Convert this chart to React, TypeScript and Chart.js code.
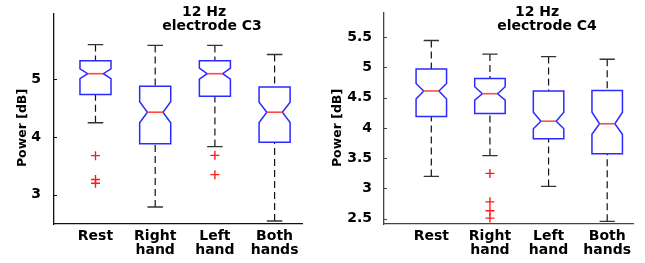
import React, { useEffect, useRef } from "react";
import { Chart, registerables } from "chart.js";

Chart.register(...registerables);

// ---- data ----
const categories: string[][] = [["Rest"], ["Right", "hand"], ["Left", "hand"], ["Both", "hands"]];

const c3TickValues = [3, 4, 5];
const c4TickValues = [2.5, 3, 3.5, 4, 4.5, 5, 5.5];

// electrode C3
const c3WhiskerHigh = [5.6, 5.585, 5.585, 5.428];
const c3Q3 = [5.318, 4.878, 5.32, 4.865];
const c3NotchHigh = [5.18, 4.61, 5.19, 4.6];
const c3Median = [5.095, 4.428, 5.095, 4.428];
const c3NotchLow = [5.01, 4.245, 5.0, 4.25];
const c3Q1 = [4.736, 3.88, 4.705, 3.905];
const c3WhiskerLow = [4.245, 2.785, 3.832, 2.542];
const c3Outliers = [[3.675, 3.26, 3.195], [], [3.68, 3.345], []];

// electrode C4
const c4WhiskerHigh = [5.445, 5.22, 5.18, 5.135];
const c4Q3 = [4.975, 4.815, 4.61, 4.62];
const c4NotchHigh = [4.735, 4.68, 4.26, 4.26];
const c4Median = [4.61, 4.565, 4.11, 4.068];
const c4NotchLow = [4.476, 4.46, 3.985, 3.893];
const c4Q1 = [4.187, 4.236, 3.82, 3.57];
const c4WhiskerLow = [3.197, 3.542, 3.032, 2.455];
const c4Outliers = [[], [3.247, 2.776, 2.63, 2.508], [], []];

const FONT = "'DejaVu Sans', 'Liberation Sans', Arial, sans-serif";

type BoxSet = {
  whiskerHigh: number[];
  q3: number[];
  notchHigh: number[];
  median: number[];
  notchLow: number[];
  q1: number[];
  whiskerLow: number[];
  outliers: number[][];
};

type Panel = {
  set: BoxSet;
  yTicks: number[];
  yMin: number;
  yMax: number;
  xMin: number;
  xMax: number;
  width: number;
  yAxisWidth: number;
  padRight: number;
  tickPad: number;
  axisColor: string;
  titleLines: string[];
  titleCenters: number[];
  yTitleX: number;
};

const panels: Panel[] = [
  {
    set: {
      whiskerHigh: c3WhiskerHigh, q3: c3Q3, notchHigh: c3NotchHigh, median: c3Median,
      notchLow: c3NotchLow, q1: c3Q1, whiskerLow: c3WhiskerLow, outliers: c3Outliers,
    },
    yTicks: c3TickValues, yMin: 2.49, yMax: 6.14, xMin: 0.305, xMax: 4.459,
    width: 322, yAxisWidth: 54, padRight: 20, tickPad: 5, axisColor: "#111",
    titleLines: ["12 Hz", "electrode C3"], titleCenters: [204, 212], yTitleX: 22.5,
  },
  {
    set: {
      whiskerHigh: c4WhiskerHigh, q3: c4Q3, notchHigh: c4NotchHigh, median: c4Median,
      notchLow: c4NotchLow, q1: c4Q1, whiskerLow: c4WhiskerLow, outliers: c4Outliers,
    },
    yTicks: c4TickValues, yMin: 2.41, yMax: 5.91, xMin: 0.193, xMax: 4.44,
    width: 323, yAxisWidth: 62, padRight: 12, tickPad: 4, axisColor: "#444",
    titleLines: ["12 Hz", "electrode C4"], titleCenters: [215, 225], yTitleX: 16,
  },
];

function buildConfig(p: Panel): any {
  const s = p.set;
  const outlierPoints: { x: number; y: number }[] = [];
  s.outliers.forEach((list, i) => list.forEach((v) => outlierPoints.push({ x: i + 1, y: v })));

  const boxPlugin = {
    id: "notchedBoxes",
    afterDatasetsDraw(chart: any) {
      const { ctx } = chart;
      const x = chart.scales.x;
      const y = chart.scales.y;
      const half = 0.26;
      const capHalf = 0.13;
      ctx.save();
      for (let i = 0; i < s.median.length; i++) {
        const c = i + 1;
        const xc = x.getPixelForValue(c);
        const xl = x.getPixelForValue(c - half);
        const xr = x.getPixelForValue(c + half);
        const nl = x.getPixelForValue(c - half / 2);
        const nr = x.getPixelForValue(c + half / 2);
        const cl = x.getPixelForValue(c - capHalf);
        const cr = x.getPixelForValue(c + capHalf);
        const pwh = y.getPixelForValue(s.whiskerHigh[i]);
        const pq3 = y.getPixelForValue(s.q3[i]);
        const pnh = y.getPixelForValue(s.notchHigh[i]);
        const pmed = y.getPixelForValue(s.median[i]);
        const pnl = y.getPixelForValue(s.notchLow[i]);
        const pq1 = y.getPixelForValue(s.q1[i]);
        const pwl = y.getPixelForValue(s.whiskerLow[i]);

        // whiskers (dashed)
        ctx.setLineDash([7, 4]);
        ctx.strokeStyle = "#111";
        ctx.lineWidth = 1.2;
        ctx.beginPath();
        ctx.moveTo(xc, pwh);
        ctx.lineTo(xc, pq3);
        ctx.moveTo(xc, pwl);
        ctx.lineTo(xc, pq1);
        ctx.stroke();

        // caps
        ctx.setLineDash([]);
        ctx.strokeStyle = "#333";
        ctx.lineWidth = 1.3;
        ctx.beginPath();
        ctx.moveTo(cl, pwh);
        ctx.lineTo(cr, pwh);
        ctx.moveTo(cl, pwl);
        ctx.lineTo(cr, pwl);
        ctx.stroke();

        // notched box
        ctx.strokeStyle = "#2b2bff";
        ctx.lineWidth = 1.5;
        ctx.beginPath();
        ctx.moveTo(xl, pq3);
        ctx.lineTo(xr, pq3);
        ctx.lineTo(xr, pnh);
        ctx.lineTo(nr, pmed);
        ctx.lineTo(xr, pnl);
        ctx.lineTo(xr, pq1);
        ctx.lineTo(xl, pq1);
        ctx.lineTo(xl, pnl);
        ctx.lineTo(nl, pmed);
        ctx.lineTo(xl, pnh);
        ctx.closePath();
        ctx.stroke();

        // median
        ctx.strokeStyle = "#ff4a4a";
        ctx.lineWidth = 1.6;
        ctx.beginPath();
        ctx.moveTo(nl, pmed);
        ctx.lineTo(nr, pmed);
        ctx.stroke();
      }
      ctx.restore();
    },
    afterDraw(chart: any) {
      const { ctx, chartArea } = chart;
      const y = chart.scales.y;
      ctx.save();
      // inward tick marks on y axis
      ctx.strokeStyle = p.axisColor;
      ctx.lineWidth = 1;
      ctx.beginPath();
      p.yTicks.forEach((v) => {
        const py = Math.round(y.getPixelForValue(v)) + 0.5;
        ctx.moveTo(chartArea.left, py);
        ctx.lineTo(chartArea.left + 3, py);
      });
      ctx.stroke();

      // title
      ctx.fillStyle = "#000";
      ctx.font = `bold 14px ${FONT}`;
      ctx.textAlign = "center";
      ctx.textBaseline = "alphabetic";
      ctx.fillText(p.titleLines[0], p.titleCenters[0], 16);
      ctx.fillText(p.titleLines[1], p.titleCenters[1], 30);

      // y axis title
      ctx.translate(p.yTitleX, 128);
      ctx.rotate(-Math.PI / 2);
      ctx.font = `bold 12.5px ${FONT}`;
      ctx.textBaseline = "middle";
      ctx.fillText("Power [dB]", 0, 0);
      ctx.restore();
    },
  };

  return {
    type: "scatter",
    data: {
      datasets: [
        {
          data: outlierPoints,
          pointStyle: "cross",
          pointRadius: 4.5,
          borderColor: "#ff1a1a",
          backgroundColor: "#ff1a1a",
          borderWidth: 1.4,
        },
      ],
    },
    options: {
      animation: false,
      responsive: false,
      devicePixelRatio: 1,
      events: [],
      layout: { padding: { left: 0, top: 5, right: p.padRight, bottom: 0 } },
      plugins: { legend: { display: false }, tooltip: { enabled: false }, title: { display: false } },
      scales: {
        x: {
          type: "linear",
          min: p.xMin,
          max: p.xMax,
          afterBuildTicks: (sc: any) => {
            sc.ticks = categories.map((_, i) => ({ value: i + 1 }));
          },
          afterFit: (sc: any) => {
            sc.height = 39;
          },
          grid: { display: false },
          border: { display: true, color: p.axisColor, width: 1.3 },
          ticks: {
            autoSkip: false,
            maxRotation: 0,
            padding: -2,
            color: "#000",
            font: { family: FONT, size: 14, weight: "bold", lineHeight: 0.95 },
            callback: (v: number) => categories[Math.round(v) - 1] ?? "",
          },
        },
        y: {
          type: "linear",
          min: p.yMin,
          max: p.yMax,
          afterBuildTicks: (sc: any) => {
            sc.ticks = p.yTicks.map((v) => ({ value: v }));
          },
          afterFit: (sc: any) => {
            sc.width = p.yAxisWidth;
          },
          grid: { display: false },
          border: { display: true, color: p.axisColor, width: 1.3 },
          ticks: {
            padding: p.tickPad,
            color: "#000",
            font: { family: FONT, size: 14, weight: "bold" },
            callback: (v: number) => String(v),
          },
        },
      },
    },
    plugins: [boxPlugin],
  };
}

function BoxChart({ panel }: { panel: Panel }) {
  const ref = useRef<HTMLCanvasElement>(null);
  useEffect(() => {
    if (!ref.current) return;
    const chart = new Chart(ref.current, buildConfig(panel));
    return () => chart.destroy();
  }, [panel]);
  return (
    <canvas
      ref={ref}
      width={panel.width}
      height={263}
      style={{ display: "block", width: panel.width, height: 263 }}
    />
  );
}

export default function App() {
  return (
    <div
      style={{
        position: "absolute",
        left: 0,
        top: 0,
        width: 645,
        height: 263,
        display: "flex",
        background: "#fff",
      }}
    >
      {panels.map((p, i) => (
        <BoxChart key={i} panel={p} />
      ))}
    </div>
  );
}
